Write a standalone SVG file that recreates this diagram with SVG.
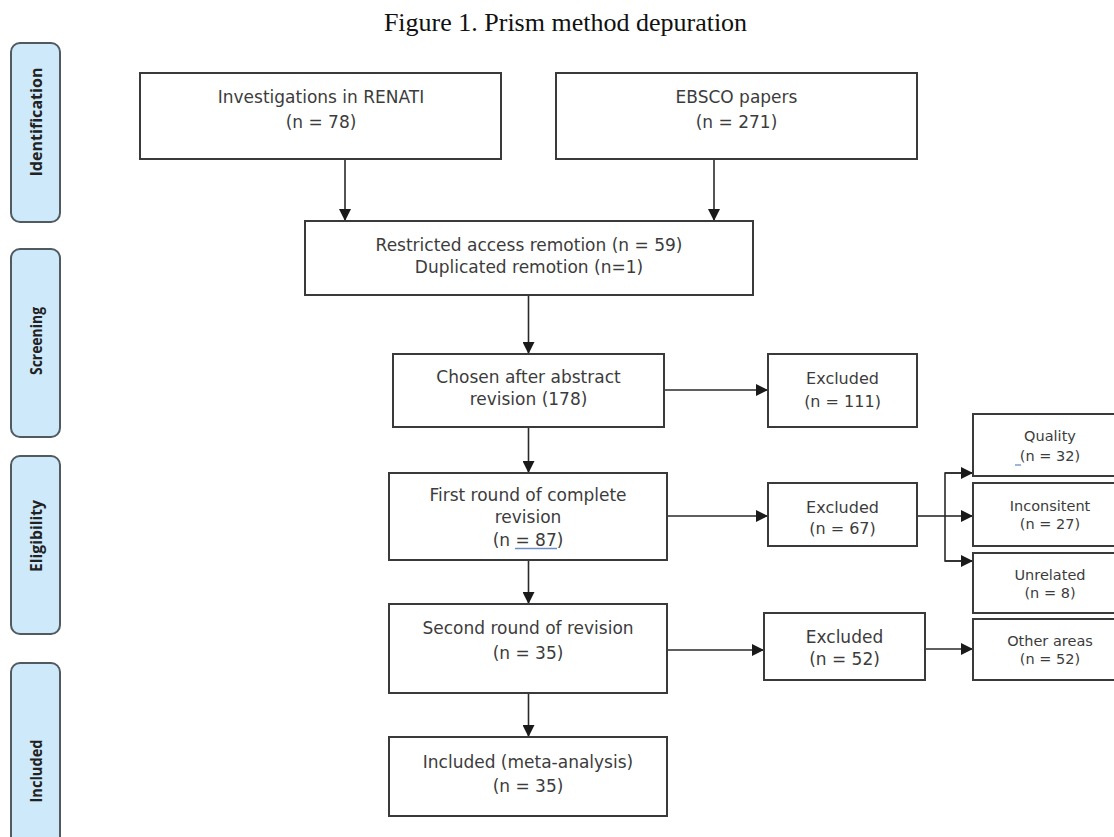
<svg xmlns="http://www.w3.org/2000/svg" width="1114" height="837" viewBox="0 0 1114 837">
<style>
.box{fill:#fff;stroke:#3a3a3a;stroke-width:2}
.phase{fill:#cde9fa;stroke:#505a60;stroke-width:2}
.t{font-family:"DejaVu Sans","Open Sans",sans-serif;font-size:17px;fill:#3c3c3c;text-anchor:middle}
.e{font-family:"DejaVu Sans","Open Sans",sans-serif;font-size:16px;fill:#3c3c3c;text-anchor:middle}
.s{font-family:"DejaVu Sans","Open Sans",sans-serif;font-size:14.5px;fill:#3c3c3c;text-anchor:middle}
.p{font-family:"Open Sans","Liberation Sans",sans-serif;font-size:16px;font-weight:bold;fill:#222;text-anchor:middle}
.c{fill:none;stroke:#2a2a2a;stroke-width:1.6}
</style>
<defs>
<marker id="ah" markerUnits="userSpaceOnUse" markerWidth="12" markerHeight="12" viewBox="0 0 10 10" refX="10" refY="5" orient="auto">
<path d="M0,0 L10,5 L0,10 z" fill="#1a1a1a"/>
</marker>
</defs>
<rect width="1114" height="837" fill="#fff"/>
<text x="565.5" y="31" font-family="'Liberation Serif','Times New Roman',serif" font-size="26" fill="#111" text-anchor="middle">Figure 1. Prism method depuration</text>

<g id="phase-identification"><rect class="phase" x="11" y="43" width="49" height="179" rx="9"/><text class="p" transform="translate(42,122) rotate(-90)" textLength="109" lengthAdjust="spacingAndGlyphs">Identification</text></g>
<g id="phase-screening"><rect class="phase" x="11" y="249" width="49" height="188" rx="9"/><text class="p" transform="translate(42,341) rotate(-90)" textLength="68" lengthAdjust="spacingAndGlyphs">Screening</text></g>
<g id="phase-eligibility"><rect class="phase" x="11" y="456" width="49" height="178" rx="9"/><text class="p" transform="translate(42,536) rotate(-90)" textLength="72" lengthAdjust="spacingAndGlyphs">Eligibility</text></g>
<g id="phase-included"><rect class="phase" x="11" y="663" width="49" height="190" rx="9"/><text class="p" transform="translate(42,771) rotate(-90)" textLength="63" lengthAdjust="spacingAndGlyphs">Included</text></g>

<g id="connectors">
<line class="c" x1="345" y1="160" x2="345" y2="221" marker-end="url(#ah)"/>
<line class="c" x1="714" y1="160" x2="714" y2="221" marker-end="url(#ah)"/>
<line class="c" x1="528.5" y1="295" x2="528.5" y2="354" marker-end="url(#ah)"/>
<line class="c" x1="528.5" y1="427" x2="528.5" y2="473" marker-end="url(#ah)"/>
<line class="c" x1="528.5" y1="560" x2="528.5" y2="604" marker-end="url(#ah)"/>
<line class="c" x1="528.5" y1="693" x2="528.5" y2="737" marker-end="url(#ah)"/>
<line class="c" x1="664" y1="390" x2="768" y2="390" marker-end="url(#ah)"/>
<line class="c" x1="667" y1="516" x2="768" y2="516" marker-end="url(#ah)"/>
<line class="c" x1="667" y1="650" x2="764" y2="650" marker-end="url(#ah)"/>
<line class="c" x1="917" y1="516" x2="945" y2="516" stroke-width="2.6"/>
<polyline class="c" points="973,473 945,473 945,561 973,561"/>
<line class="c" x1="945" y1="473" x2="973" y2="473" marker-end="url(#ah)"/>
<line class="c" x1="945" y1="516" x2="973" y2="516" marker-end="url(#ah)"/>
<line class="c" x1="945" y1="561" x2="973" y2="561" marker-end="url(#ah)"/>
<line class="c" x1="925" y1="649" x2="973" y2="649" marker-end="url(#ah)"/>
</g>

<g id="n-renati"><rect class="box" x="140" y="73" width="361" height="86"/><text class="t" x="321" y="103">Investigations in RENATI</text><text class="t" x="321" y="128">(n = 78)</text></g>
<g id="n-ebsco"><rect class="box" x="556" y="73" width="361" height="86"/><text class="t" x="736.5" y="103">EBSCO papers</text><text class="t" x="736.5" y="128">(n = 271)</text></g>
<g id="n-restricted"><rect class="box" x="305" y="221" width="448" height="74"/><text class="t" x="529" y="251">Restricted access remotion (n = 59)</text><text class="t" x="529" y="273">Duplicated remotion (n=1)</text></g>
<g id="n-chosen"><rect class="box" x="393" y="354" width="271" height="73"/><text class="t" x="528.5" y="383">Chosen after abstract</text><text class="t" x="528.5" y="405">revision (178)</text></g>
<g id="n-excl111"><rect class="box" x="768" y="354" width="149" height="73"/><text class="e" x="842.5" y="384">Excluded</text><text class="e" x="842.5" y="407">(n = 111)</text></g>
<g id="n-first"><rect class="box" x="389" y="473" width="278" height="87"/><text class="t" x="528" y="501">First round of complete</text><text class="t" x="528" y="523">revision</text><text class="t" x="528" y="546">(n =  87)</text><line x1="515" y1="548.5" x2="557" y2="548.5" stroke="#6a8fc8" stroke-width="1.3"/></g>
<g id="n-excl67"><rect class="box" x="768" y="483" width="149" height="63"/><text class="e" x="842.5" y="513">Excluded</text><text class="e" x="842.5" y="534">(n = 67)</text></g>
<g id="n-second"><rect class="box" x="389" y="604" width="278" height="89"/><text class="t" x="528" y="634">Second round of revision</text><text class="t" x="528" y="659">(n = 35)</text></g>
<g id="n-excl52"><rect class="box" x="764" y="613" width="161" height="67"/><text class="t" x="844.5" y="643">Excluded</text><text class="t" x="844.5" y="665">(n = 52)</text></g>
<g id="n-included"><rect class="box" x="389" y="737" width="278" height="79"/><text class="t" x="528" y="768">Included (meta-analysis)</text><text class="t" x="528" y="792">(n = 35)</text></g>
<g id="n-quality"><rect class="box" x="973" y="414" width="150" height="62"/><text class="s" x="1050" y="441">Quality</text><text class="s" x="1050" y="461">(n =  32)</text><line x1="1015" y1="465" x2="1021" y2="465" stroke="#6a8fc8" stroke-width="1.3"/></g>
<g id="n-inconsitent"><rect class="box" x="973" y="483" width="150" height="63"/><text class="s" x="1050" y="510.5">Inconsitent</text><text class="s" x="1050" y="528.5">(n = 27)</text></g>
<g id="n-unrelated"><rect class="box" x="973" y="553" width="150" height="60"/><text class="s" x="1050" y="579.5">Unrelated</text><text class="s" x="1050" y="597.5">(n = 8)</text></g>
<g id="n-other"><rect class="box" x="973" y="619" width="150" height="61"/><text class="s" x="1050" y="646">Other areas</text><text class="s" x="1050" y="664">(n = 52)</text></g>
</svg>
